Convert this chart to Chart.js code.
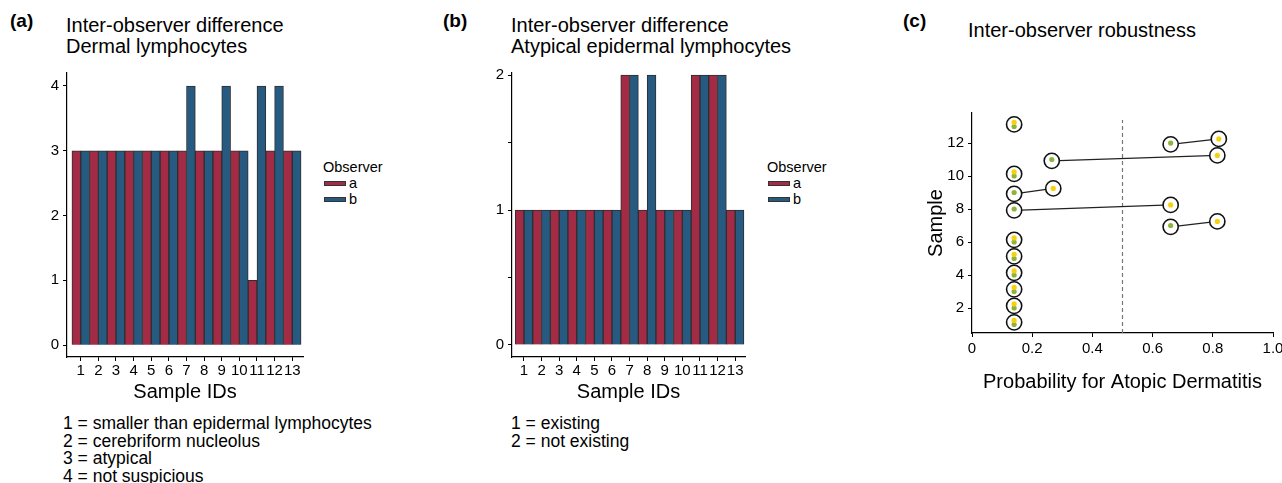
<!DOCTYPE html>
<html lang="en">
<head>
  <meta charset="UTF-8">
  <title>Inter-observer difference</title>
  <script src="https://cdn.jsdelivr.net/npm/chart.js"></script>
  <style>
    body { margin: 0; width: 1282px; height: 483px; overflow: hidden; position: relative; background: #fff;
           font-family: "Liberation Sans", Arial, sans-serif; color: #000; }
    .abs { position: absolute; white-space: nowrap; }
    .tag { font-size: 19px; font-weight: bold; line-height: 19px; }
    .title { font-size: 20px; line-height: 20.5px; }
    .note { font-size: 17.5px; line-height: 17.5px; }
    .legend { font-size: 14.5px; line-height: 16px; }
    .legend .sw { position: absolute; width: 22px; height: 5px; box-sizing: border-box; border: 1px solid #333; }
    canvas { position: absolute; }
  </style>
</head>
<body>
  <div class="abs tag" style="left:10px;top:11px">(a)</div>
  <div class="abs title" style="left:66px;top:15px">Inter-observer difference<br>Dermal lymphocytes</div>
  <canvas id="chartA" width="320" height="344" style="left:0px;top:60px"></canvas>
  <div class="abs legend" style="left:323px;top:159px">
    Observer
    <div class="sw" style="left:1px;top:22px;background:#A32B46"></div><span class="abs" style="left:26px;top:16px">a</span>
    <div class="sw" style="left:1px;top:38px;background:#275A80"></div><span class="abs" style="left:26px;top:32px">b</span>
  </div>
  <div class="abs note" style="left:63px;top:415px">1 = smaller than epidermal lymphocytes<br>2 = cerebriform nucleolus<br>3 = atypical<br>4 = not suspicious</div>

  <div class="abs tag" style="left:443px;top:11px">(b)</div>
  <div class="abs title" style="left:511px;top:15px">Inter-observer difference<br>Atypical epidermal lymphocytes</div>
  <canvas id="chartB" width="320" height="344" style="left:445px;top:60px"></canvas>
  <div class="abs legend" style="left:767px;top:159px">
    Observer
    <div class="sw" style="left:1px;top:22px;background:#A32B46"></div><span class="abs" style="left:26px;top:16px">a</span>
    <div class="sw" style="left:1px;top:38px;background:#275A80"></div><span class="abs" style="left:26px;top:32px">b</span>
  </div>
  <div class="abs note" style="left:511px;top:415px">1 = existing<br>2 = not existing</div>

  <div class="abs tag" style="left:903px;top:11px">(c)</div>
  <div class="abs title" style="left:968px;top:20px">Inter-observer robustness</div>
  <canvas id="chartC" width="366" height="294" style="left:924px;top:100px"></canvas>

  <script>
    // sample ids on the x axis of (a) and (b)
    const sampleIds = ['1','2','3','4','5','6','7','8','9','10','11','12','13'];

    // (a) dermal lymphocytes, category per observer
    const dermalA = [3, 3, 3, 3, 3, 3, 3, 3, 3, 3, 1, 3, 3];
    const dermalB = [3, 3, 3, 3, 3, 3, 4, 3, 4, 3, 4, 4, 3];
    const dermalTicks = [0, 1, 2, 3, 4];

    // (b) atypical epidermal lymphocytes
    const atypA = [1, 1, 1, 1, 1, 1, 2, 1, 1, 1, 2, 2, 1];
    const atypB = [1, 1, 1, 1, 1, 1, 2, 2, 1, 1, 2, 2, 1];
    const atypTicks = [0, 0.5, 1, 1.5, 2];

    // (c) probability for atopic dermatitis per sample
    const samples = [1, 2, 3, 4, 5, 6, 7, 8, 9, 10, 11, 12, 13];
    const probA = [0.14, 0.14, 0.14, 0.14, 0.14, 0.14, 0.66, 0.14, 0.14, 0.14, 0.265, 0.66, 0.14];
    const probB = [0.14, 0.14, 0.14, 0.14, 0.14, 0.14, 0.815, 0.66, 0.27, 0.14, 0.815, 0.82, 0.14];
    const probXTicks = [0, 0.2, 0.4, 0.6, 0.8, 1.0];
    const probXLabels = ['0', '0.2', '0.4', '0.6', '0.8', '1.0'];
    const sampleTicks = [2, 4, 6, 8, 10, 12];
    const threshold = 0.5;

    const RED = '#A32B46', BLUE = '#275A80', EDGE = '#2e2e2e';
    const GREEN = '#8DB53B', YELLOW = '#F5D10F';
    const FONT = "'Liberation Sans', Arial, sans-serif";
    Chart.defaults.font.family = FONT;
    Chart.defaults.color = '#000';

    function axisBase(extra) {
      return Object.assign({
        grid: { drawOnChartArea: false, drawTicks: true, tickLength: 4, color: '#000', lineWidth: 1 },
        border: { display: true, color: '#000', width: 1.2 }
      }, extra);
    }

    function barChart(id, a, b, xMin, xMax, yMin, yMax, yTicks, padTop, padRight) {
      const ids = sampleIds.map(Number);
      new Chart(document.getElementById(id), {
        type: 'bar',
        data: {
          datasets: [
            { label: 'a', data: a.map((v, i) => ({ x: ids[i], y: v })), backgroundColor: RED, borderColor: EDGE, borderWidth: 1 },
            { label: 'b', data: b.map((v, i) => ({ x: ids[i], y: v })), backgroundColor: BLUE, borderColor: EDGE, borderWidth: 1 }
          ]
        },
        options: {
          responsive: false,
          animation: false,
          layout: { padding: { top: padTop, right: padRight, left: 0, bottom: 0 } },
          datasets: { bar: { categoryPercentage: 1, barPercentage: 1 } },
          plugins: { legend: { display: false }, tooltip: { enabled: false } },
          scales: {
            x: axisBase({
              type: 'linear', min: xMin, max: xMax, offset: false,
              grid: { offset: false, drawOnChartArea: false, tickLength: 4, color: '#000' },
              ticks: { autoSkip: false, maxRotation: 0, padding: 1, font: { size: 15 },
                       callback: v => sampleIds[ids.indexOf(v)] || '' },
              afterBuildTicks: s => { s.ticks = ids.map(v => ({ value: v })); },
              title: { display: true, text: 'Sample IDs', font: { size: 20 }, padding: 0 },
              afterFit: s => { s.height = 47; }
            }),
            y: axisBase({
              min: yMin, max: yMax,
              ticks: { padding: 4, font: { size: 15 },
                       callback: v => Number.isInteger(v) ? String(v) : '' },
              afterBuildTicks: s => { s.ticks = yTicks.map(v => ({ value: v })); },
              afterFit: s => { s.width = 67; }
            })
          }
        }
      });
    }

    barChart('chartA', dermalA, dermalB, 0.22, 13.61, -0.183, 4.2, dermalTicks, 10, 17);
    barChart('chartB', atypA, atypB, 0.32, 13.56, -0.089, 2.015, atypTicks, 13, 20);

    // panel (c): rings, connecting segments, dots
    const offB = 0.25;      // observer b dot sits a little above the sample line
    const ringSame = 0.13;  // one ring around both dots when they agree
    const ringA = -0.08;
    const yMinC = 0.485, yMaxC = 13.82;

    const dotsA = samples.map((s, i) => ({ x: probA[i], y: s }));
    const dotsB = samples.map((s, i) => ({ x: probB[i], y: s + offB }));
    const rings = [];
    const segs = [];
    samples.forEach((s, i) => {
      if (probA[i] === probB[i]) {
        rings.push({ x: probA[i], y: s + ringSame });
      } else {
        const p = { x: probA[i], y: s + ringA }, q = { x: probB[i], y: s + offB };
        rings.push(p, q);
        segs.push([p, q]);
      }
    });

    const cSets = [
      { data: dotsB, backgroundColor: YELLOW, borderWidth: 0, pointRadius: 2.6, order: 0 },
      { data: dotsA, backgroundColor: GREEN, borderWidth: 0, pointRadius: 2.6, order: 0 },
      { data: rings, backgroundColor: '#fff', borderColor: '#111', borderWidth: 1.6, pointRadius: 7.6, order: 1 },
      { data: [{ x: threshold, y: yMinC }, { x: threshold, y: 13.4 }], showLine: true, pointRadius: 0,
        borderColor: '#777', borderWidth: 1.2, borderDash: [4, 3], order: 3 }
    ];
    segs.forEach(sg => cSets.push({ data: sg, showLine: true, pointRadius: 0, borderColor: '#222', borderWidth: 1.3, order: 2 }));

    new Chart(document.getElementById('chartC'), {
      type: 'scatter',
      data: { datasets: cSets },
      options: {
        responsive: false,
        animation: false,
        layout: { padding: { top: 13, right: 17, left: 0, bottom: 0 } },
        plugins: { legend: { display: false }, tooltip: { enabled: false } },
        scales: {
          x: axisBase({
            type: 'linear', min: 0, max: 1,
            ticks: { padding: 3, font: { size: 15 },
                     callback: v => { const k = probXTicks.indexOf(v); return k >= 0 ? probXLabels[k] : ''; } },
            afterBuildTicks: s => { s.ticks = probXTicks.map(v => ({ value: v })); },
            title: { display: true, text: 'Probability for Atopic Dermatitis', font: { size: 20 }, padding: 0 },
            afterFit: s => { s.height = 61; }
          }),
          y: axisBase({
            type: 'linear', min: yMinC, max: yMaxC,
            ticks: { padding: 4, font: { size: 15 } },
            afterBuildTicks: s => { s.ticks = sampleTicks.map(v => ({ value: v })); },
            title: { display: true, text: 'Sample', font: { size: 20 }, padding: 0 },
            afterFit: s => { s.width = 48; }
          })
        }
      }
    });
  </script>
</body>
</html>
